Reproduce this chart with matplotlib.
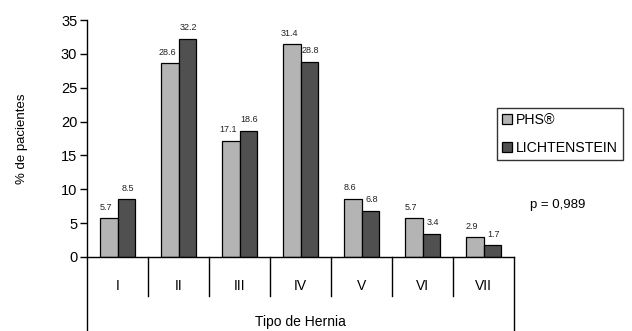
import numpy as np
import matplotlib.pyplot as plt

# Tipos de hernia y porcentaje de pacientes por técnica
tipos = ['I', 'II', 'III', 'IV', 'V', 'VI', 'VII']
phs = [5.7, 28.6, 17.1, 31.4, 8.6, 5.7, 2.9]
lichtenstein = [8.5, 32.2, 18.6, 28.8, 6.8, 3.4, 1.7]
yticks = [0, 5, 10, 15, 20, 25, 30, 35]

plt.rcParams['font.family'] = ['Liberation Sans', 'DejaVu Sans']

fig = plt.figure(figsize=(6.32, 3.31), dpi=100)
ax = fig.add_axes([87/632, 74/331, 427/632, 237/331])

x = np.arange(len(tipos))
w = 0.29
ax.bar(x - w/2, phs, w, color='#b4b4b4', edgecolor='black', linewidth=0.9, label='PHS®')
ax.bar(x + w/2, lichtenstein, w, color='#505050', edgecolor='black', linewidth=0.9, label='LICHTENSTEIN')

# etiquetas de valor
for xi, v in zip(x - w/2, phs):
    ax.text(xi - 0.04, v + 1.0, f'{v:.1f}', ha='center', va='bottom', fontsize=6.5, color='#222222')
for xi, v in zip(x + w/2, lichtenstein):
    ax.text(xi + 0.02, v + 1.0, f'{v:.1f}', ha='center', va='bottom', fontsize=6.5, color='#222222')

ax.set_xlim(-0.5, len(tipos) - 0.5)
ax.set_ylim(0, 35)
ax.set_yticks(yticks)
ax.tick_params(axis='y', length=5, width=1, labelsize=10.5, pad=2)
ax.set_xticks(x)
ax.set_xticklabels(tipos)
ax.tick_params(axis='x', length=0, labelsize=10, pad=16)

for s in ['top', 'right']:
    ax.spines[s].set_visible(False)
ax.spines['left'].set_linewidth(1)
ax.spines['bottom'].set_linewidth(1)

# líneas bajo el eje: bordes y separadores de categorías
trans = ax.get_xaxis_transform()
ax.plot([-0.5, -0.5], [0, -0.32], color='black', lw=1, transform=trans, clip_on=False)
ax.plot([6.5, 6.5], [0, -0.32], color='black', lw=1, transform=trans, clip_on=False)
for sep in np.arange(0.5, 6.5, 1):
    ax.plot([sep, sep], [0, -0.165], color='black', lw=1, transform=trans, clip_on=False)

ax.set_ylabel('% de pacientes', fontsize=9.5, labelpad=24)
fig.text(300/632, 1 - 322/331, 'Tipo de Hernia', ha='center', va='center', fontsize=10)

leg = fig.legend(loc='upper left', bbox_to_anchor=(497/632, 1 - 108/331), fontsize=10.2,
                 frameon=True, fancybox=False, edgecolor='black', handlelength=0.7,
                 handleheight=0.7, handletextpad=0.3, borderpad=0.35, labelspacing=1.0,
                 borderaxespad=0)
leg.get_frame().set_linewidth(1)

fig.text(530/632, 1 - 205/331, 'p = 0,989', ha='left', va='center', fontsize=9.5)

fig.savefig('out.png', dpi=100)
